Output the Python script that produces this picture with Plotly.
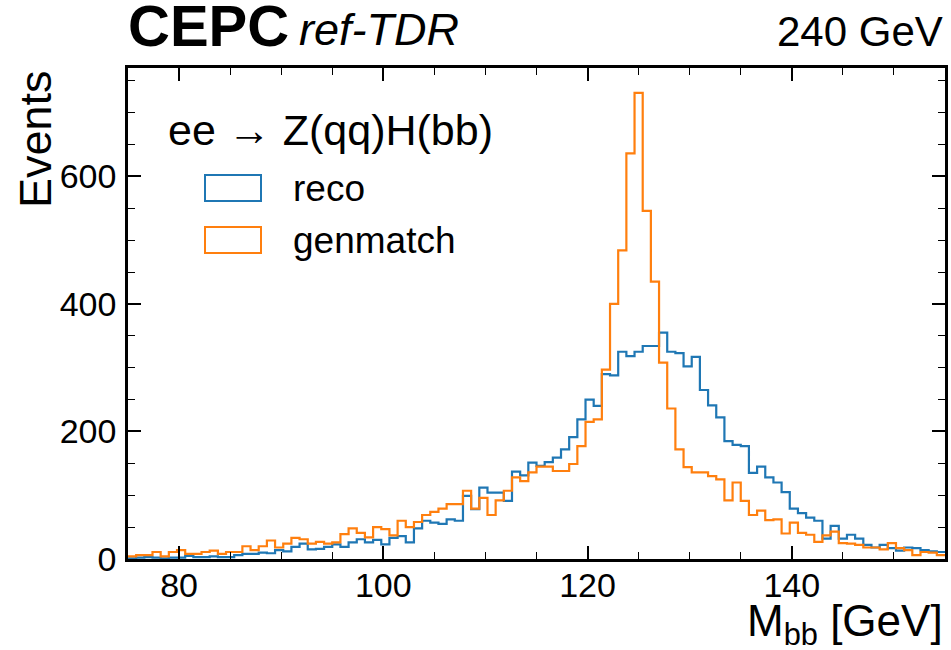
import numpy as np
import plotly.graph_objects as go

# Binning of the M_bb histograms (GeV)
bin_lo, bin_hi, n_bins = 75.0, 155.0, 100

# Events per 0.8 GeV bin
reco = [
    1, 2, 3, 2, 1, 2, 2, 5, 3, 3,
    4, 3, 3, 6, 8, 8, 10, 9, 14, 12,
    19, 24, 15, 16, 19, 23, 19, 26, 31, 26,
    30, 23, 33, 36, 26, 48, 60, 57, 55, 62,
    60, 99, 78, 112, 104, 104, 91, 137, 131, 151,
    146, 152, 159, 172, 191, 219, 250, 240, 290, 288,
    325, 318, 325, 334, 334, 355, 325, 323, 302, 317,
    265, 241, 222, 185, 179, 177, 135, 145, 128, 120,
    105, 79, 72, 65, 60, 32, 52, 32, 38, 32,
    22, 18, 22, 17, 13, 18, 17, 14, 12, 11,
]
genmatch = [
    4, 6, 6, 11, 4, 11, 14, 8, 8, 11,
    13, 8, 11, 11, 20, 14, 20, 29, 18, 24,
    33, 31, 24, 27, 24, 26, 39, 48, 41, 34,
    50, 47, 37, 60, 50, 58, 69, 74, 79, 86,
    86, 107, 79, 96, 69, 92, 107, 128, 122, 136,
    145, 145, 138, 138, 149, 177, 215, 219, 297, 400,
    484, 636, 731, 546, 435, 308, 236, 172, 144, 136,
    136, 130, 125, 92, 120, 91, 69, 76, 61, 62,
    40, 57, 41, 38, 27, 37, 43, 25, 24, 22,
    18, 18, 15, 25, 17, 14, 6, 11, 10, 6,
]

series = [("reco", reco, "#1f77b4"), ("genmatch", genmatch, "#ff7f0e")]
x_ticks = [80, 100, 120, 140]
y_ticks = [0, 200, 400, 600]

edges = np.linspace(bin_lo, bin_hi, n_bins + 1)

W, H = 951, 650
L, R, T, B = 128, 6, 68, 91
PW, PH = W - L - R, H - T - B
FONT = "Liberation Sans, Arial, Helvetica, sans-serif"


def px(xp):
    return (xp - L) / PW


def py(yp):
    return (H - B - yp) / PH


fig = go.Figure()
for name, vals, color in series:
    fig.add_trace(go.Scatter(
        x=edges, y=list(vals) + [vals[-1]],
        mode="lines", line=dict(color=color, width=2.2, shape="hv"),
        name=name, showlegend=False, hoverinfo="skip",
    ))

axis_common = dict(
    showline=True, linecolor="black", linewidth=2.5, mirror="ticks",
    ticks="inside", ticklen=13, tickwidth=1.5, tickcolor="black",
    showgrid=False, zeroline=False,
    tickfont=dict(family=FONT, size=34, color="black"),
)
fig.update_xaxes(
    range=[bin_lo, bin_hi], tickvals=x_ticks, ticklabelstandoff=-6, **axis_common,
    minor=dict(ticks="inside", ticklen=7, tickwidth=1, tickcolor="black", dtick=5, tick0=0),
)
fig.update_yaxes(
    range=[0, 770], tickvals=y_ticks, ticklabelstandoff=2, **axis_common,
    minor=dict(ticks="inside", ticklen=7, tickwidth=1, tickcolor="black", dtick=50, tick0=0),
)

ann = [
    dict(text="<b>CEPC</b>", x=px(126), y=py(60), xanchor="left", yanchor="bottom",
         font=dict(family=FONT, size=58, color="black")),
    dict(text="<i>ref-TDR</i>", x=px(297), y=py(57), xanchor="left", yanchor="bottom",
         font=dict(family=FONT, size=45, color="black")),
    dict(text="240 GeV", x=1.0, y=py(57), xanchor="right", yanchor="bottom",
         font=dict(family=FONT, size=42, color="black")),
    dict(text="Events", x=px(35), y=1.0, xanchor="center", yanchor="top", textangle=-90,
         font=dict(family=FONT, size=45, color="black")),
    dict(text="M<sub>bb</sub> [GeV]", x=1.0, y=py(594), xanchor="right", yanchor="top",
         font=dict(family=FONT, size=44, color="black")),
    dict(text="ee \u2192 Z(qq)H(bb)", x=px(166), y=py(130), xanchor="left", yanchor="middle",
         font=dict(family=FONT, size=43, color="black")),
]

# Legend: outlined boxes with labels
legend_rows = [(188, "reco", "#1f77b4"), (240, "genmatch", "#ff7f0e")]
shapes = []
for yc, label, color in legend_rows:
    shapes.append(dict(type="rect", xref="paper", yref="paper",
                       x0=px(205), x1=px(261), y0=py(yc - 13), y1=py(yc + 13),
                       line=dict(color=color, width=2), fillcolor="rgba(0,0,0,0)"))
    ann.append(dict(text=label, x=px(291), y=py(yc), xanchor="left", yanchor="middle",
                    font=dict(family=FONT, size=37, color="black")))

for a in ann:
    a.update(xref="paper", yref="paper", showarrow=False)

fig.update_layout(
    width=W, height=H,
    margin=dict(l=L, r=R, t=T, b=B, autoexpand=False),
    paper_bgcolor="white", plot_bgcolor="white",
    annotations=ann, shapes=shapes, showlegend=False,
)

fig.write_html("out.html")
